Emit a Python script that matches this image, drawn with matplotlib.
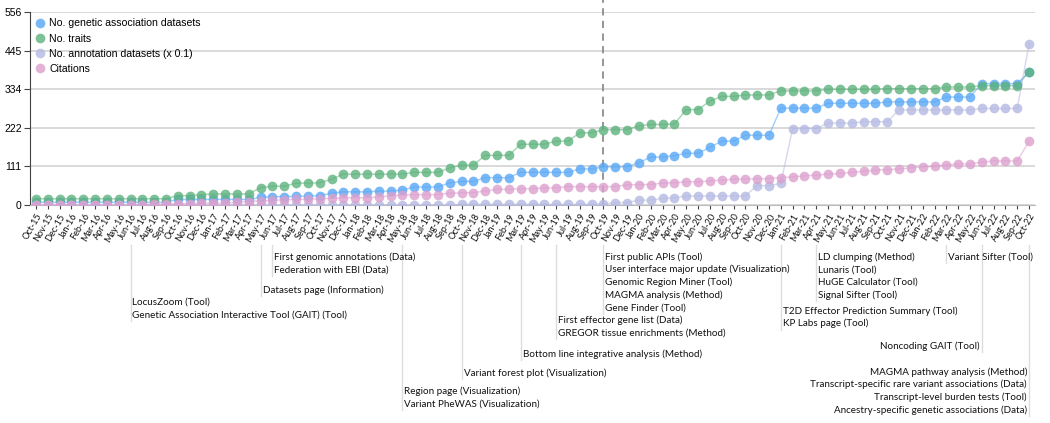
import numpy as np
import pandas as pd
import matplotlib
matplotlib.use("Agg")
import matplotlib.pyplot as plt
from matplotlib import transforms
from matplotlib.lines import Line2D

# monthly x categories Oct-15 .. Oct-22
months = pd.date_range("2015-10-01", periods=85, freq="MS").strftime("%b-%y").tolist()

n_genetic = [8, 8, 8, 8, 8, 8, 8, 8, 8, 8, 8, 8,
             16, 16, 16, 16, 16, 16, 16, 22, 24, 24, 25, 25, 27, 34,
             38, 38, 38, 40, 40, 43, 52, 52, 52, 64, 68, 68, 79, 79, 79,
             94, 94, 94, 94, 94, 104, 104, 110, 110, 110, 122, 138, 138, 142,
             149, 149, 166, 184, 184, 201, 201, 201, 279, 279, 279, 279,
             293, 293, 293, 293, 293, 297, 297, 297, 297, 297, 311, 311, 311,
             350, 350, 350, 350, 384]

n_traits = [18, 18, 18, 18, 18, 18, 18, 18, 18, 18, 18, 18,
            27, 27, 30, 32, 32, 32, 32, 50, 54, 54, 63, 63, 64, 74,
            89, 89, 89, 89, 89, 89, 94, 94, 94, 107, 115, 115, 143, 143, 143,
            175, 175, 175, 184, 184, 208, 208, 217, 217, 217, 228, 232, 232, 233,
            275, 275, 299, 313, 313, 317, 317, 317, 329, 329, 329, 329,
            333, 333, 333, 333, 333, 335, 335, 335, 335, 335, 340, 340, 340,
            344, 344, 344, 344, 384]

n_annot = [0, 0, 0, 0, 0, 0, 0, 0, 0, 0, 0, 0, 0, 0, 0, 0, 0, 0,
           0, 0, 0, 0, 0, 0, 0, 0, 0, 0, 0, 0, 0, 0, 0, 0, 0, 0,
           2, 2, 2, 2, 2, 2, 2, 2, 2, 2, 2, 2,
           4, 7, 7, 14, 14, 19, 21, 26, 26, 26, 26, 26, 26, 56, 56, 62,
           220, 220, 220, 236, 236, 236, 240, 240, 240,
           274, 274, 274, 274, 274, 274, 274, 278, 278, 278, 278, 464]

citations = [0, 0, 0, 0, 0, 0, 0, 0, 0, 1, 2, 3, 4, 4, 5, 6, 6, 8, 10, 12,
             13, 15, 16, 17, 18, 19, 21, 21, 21, 23, 27, 29, 30, 30, 30, 34,
             35, 36, 40, 45, 45, 47, 47, 49, 50, 53, 53, 53, 53, 53, 58, 59,
             59, 63, 64, 67, 67, 69, 72, 74, 75, 76, 76, 79, 81, 84, 86, 89,
             91, 94, 97, 100, 102, 104, 107, 110, 111, 116, 118, 119, 123,
             127, 127, 127, 184]

y_ticks = [0, 111, 222, 334, 445, 556]
release_month = "Oct-19"

# (month, labels, first text row in px from top, side of the line)
events = [
    ("Jun-16", ["LocusZoom (Tool)", "Genetic Association Interactive Tool (GAIT) (Tool)"], 302, "left"),
    ("May-17", ["Datasets page (Information)"], 290, "left"),
    ("Jun-17", ["First genomic annotations (Data)", "Federation with EBI (Data)"], 257, "left"),
    ("May-18", ["Region page (Visualization)", "Variant PheWAS (Visualization)"], 391, "left"),
    ("Oct-18", ["Variant forest plot (Visualization)"], 373, "left"),
    ("Mar-19", ["Bottom line integrative analysis (Method)"], 354, "left"),
    ("Jun-19", ["First effector gene list (Data)", "GREGOR tissue enrichments (Method)"], 320, "left"),
    ("Oct-19", ["First public APIs (Tool)", "User interface major update (Visualization)",
                "Genomic Region Miner (Tool)", "MAGMA analysis (Method)", "Gene Finder (Tool)"], 257, "left"),
    ("Jan-21", ["T2D Effector Prediction Summary (Tool)", "KP Labs page (Tool)"], 311, "left"),
    ("Apr-21", ["LD clumping (Method)", "Lunaris (Tool)", "HuGE Calculator (Tool)", "Signal Sifter (Tool)"], 257, "left"),
    ("Mar-22", ["Variant Sifter (Tool)"], 257, "left"),
    ("Jun-22", ["Noncoding GAIT (Tool)"], 346, "right"),
    ("Oct-22", ["MAGMA pathway analysis (Method)", "Transcript-specific rare variant associations (Data)",
                "Transcript-level burden tests (Tool)", "Ancestry-specific genetic associations (Data)"], 372, "right"),
]

W, H = 1050, 423
fig = plt.figure(figsize=(W / 100, H / 100), dpi=100)
ax = fig.add_axes([30 / W, 1 - 205 / H, 1005 / W, 193 / H])

x = np.arange(len(months))
series = [
    (n_genetic, "No. genetic association datasets", "#58a7f6"),
    (n_traits, "No. traits", "#5db27c"),
    (n_annot, "No. annotation datasets (x 0.1)", "#b5b9e2"),
    (citations, "Citations", "#dc9fce"),
]
for vals, lab, col in series:
    ax.plot(x, vals, color=col, lw=1, alpha=0.55, zorder=2)
    ax.plot(x, vals, ls="none", marker="o", ms=7, color=col, alpha=0.8,
            mec="none", label=lab, zorder=3)

ax.set_xlim(-0.5, len(months) - 0.5)
ax.set_ylim(0, 556)
ax.set_yticks(y_ticks)
ax.set_yticklabels([str(t) for t in y_ticks], family="Liberation Sans", fontsize=7.5)
ax.set_xticks(x)
ax.set_xticklabels(months, rotation=60, ha="right", rotation_mode="anchor",
                   fontsize=6.6, family="Lato", color="#111111")
ax.tick_params(axis="y", length=4, color="#444444", pad=2)
ax.tick_params(axis="x", length=3, color="#444444", pad=2)
ax.grid(axis="y", color="#d9d9d9", lw=1.4)
ax.set_axisbelow(True)
for s in ["top", "right"]:
    ax.spines[s].set_visible(False)
ax.spines["left"].set_color("#444444")
ax.spines["bottom"].set_color("#bbbbbb")

ax.axvline(months.index(release_month), ymin=0, ymax=1 + 12 / 193, color="#8c8c8c",
           ls=(0, (4, 3)), lw=1.3, clip_on=False, zorder=1)

ax.legend(loc="upper left", bbox_to_anchor=(0.0, 1.0), frameon=False,
          prop={"family": "Liberation Sans", "size": 7.6},
          handlelength=0.7, handletextpad=0.5, labelspacing=0.5, borderaxespad=0.4,
          borderpad=0.2)

# timeline annotations below the axis
trans = transforms.blended_transform_factory(ax.transData, fig.transFigure)
gap = 12.7
for month, labels, y0, side in events:
    xi = months.index(month)
    rows = [y0 + k * gap for k in range(len(labels))]
    fig.add_artist(Line2D([xi, xi], [1 - 245 / H, 1 - (rows[-1] + 6) / H],
                          transform=trans, color="#dddddd", lw=1))
    off = transforms.offset_copy(trans, fig=fig, x=2 if side == "left" else -2, units="dots")
    for lab, yy in zip(labels, rows):
        fig.text(xi, 1 - yy / H, lab, transform=off, ha=side, va="center",
                 fontsize=7.1, family="Lato", color="#111111")

fig.savefig("out.png", dpi=100)
